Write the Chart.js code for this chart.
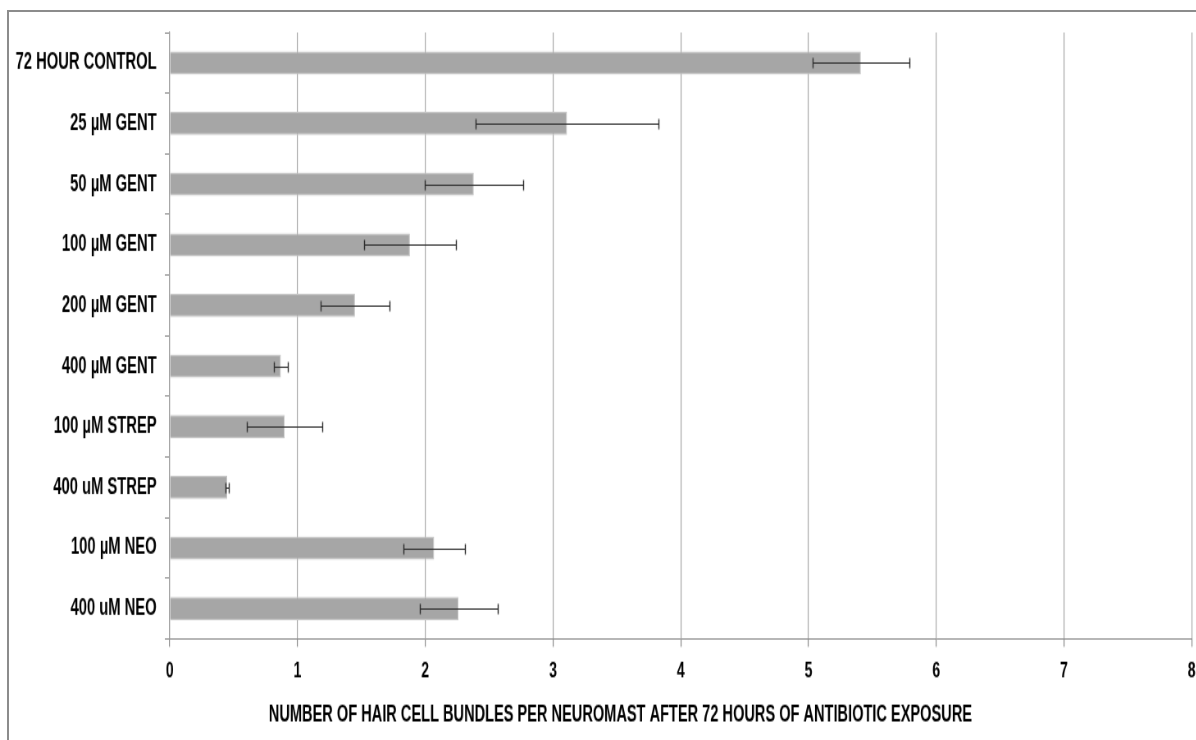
<!DOCTYPE html>
<html>
<head>
<meta charset="utf-8">
<title>Hair cell bundles per neuromast</title>
<script src="https://cdn.jsdelivr.net/npm/chart.js@4.4.1/dist/chart.umd.min.js"></script>
<style>
  html, body { margin: 0; padding: 0; background: #ffffff; overflow: hidden; }
  #stage { position: relative; width: 1196px; height: 740px; overflow: hidden; }
  #frame {
    position: absolute; left: 7px; top: 10px; width: 1400px; height: 900px;
    border-left: 2px solid #8c8c8c; border-top: 2px solid #8c8c8c;
  }
  /* the chart is drawn on a wide, short canvas and shown condensed / tall */
  #plot {
    position: absolute; left: 0; top: 0;
    transform: scale(0.82, 1.3); transform-origin: 0 0;
  }
</style>
</head>
<body>
<div id="stage">
  <div id="frame"></div>
  <canvas id="plot" width="1467" height="569"></canvas>
</div>
<script>
// Treatment groups, top to bottom
const categories = [
  '72 HOUR CONTROL',
  '25 µM GENT',
  '50 µM GENT',
  '100 µM GENT',
  '200 µM GENT',
  '400 µM GENT',
  '100 µM STREP',
  '400 uM STREP',
  '100 µM NEO',
  '400 uM NEO'
];

// Mean hair cell bundles per neuromast
const meanBundles = [5.41, 3.11, 2.38, 1.88, 1.45, 0.87, 0.90, 0.45, 2.07, 2.26];

// Error (+/-) for each group
const errorBundles = [0.38, 0.715, 0.385, 0.36, 0.27, 0.055, 0.295, 0.015, 0.24, 0.305];

// Value axis ticks
const xTicks = [0, 1, 2, 3, 4, 5, 6, 7, 8];

const axisTitle = 'NUMBER OF HAIR CELL BUNDLES PER NEUROMAST AFTER 72 HOURS OF ANTIBIOTIC EXPOSURE';

const FONT = "'Liberation Sans', Arial, sans-serif";

// Draws symmetric error bars on each bar, using the chart's own scales
const errorBarPlugin = {
  id: 'errorBars',
  afterDatasetsDraw(chart) {
    const ctx = chart.ctx;
    const xScale = chart.scales.x;
    const meta = chart.getDatasetMeta(0);
    ctx.save();
    ctx.strokeStyle = '#2e2e2e';
    meta.data.forEach((bar, i) => {
      const v = meanBundles[i];
      const e = errorBundles[i];
      const x1 = Math.round(xScale.getPixelForValue(v - e)) + 0.5;
      const x2 = Math.round(xScale.getPixelForValue(v + e)) + 0.5;
      const y = Math.round(bar.y) + 0.5;
      const cap = 4;
      ctx.lineWidth = 1;
      ctx.beginPath();
      ctx.moveTo(x1, y);
      ctx.lineTo(x2, y);
      ctx.stroke();
      ctx.lineWidth = 1.4;
      ctx.beginPath();
      ctx.moveTo(x1, y - cap);
      ctx.lineTo(x1, y + cap);
      ctx.moveTo(x2, y - cap);
      ctx.lineTo(x2, y + cap);
      ctx.stroke();
    });
    ctx.restore();
  }
};

// Value-axis caption, set a little left of the plot's centre
const axisCaptionPlugin = {
  id: 'axisCaption',
  afterDraw(chart) {
    const { ctx, chartArea } = chart;
    const cx = chartArea.left + (chartArea.right - chartArea.left) * 0.441;
    ctx.save();
    ctx.font = "bold 17.8px " + FONT;
    ctx.fillStyle = '#000000';
    ctx.textAlign = 'center';
    ctx.textBaseline = 'middle';
    ctx.fillText(axisTitle, cx, chart.height - 19);
    ctx.restore();
  }
};

new Chart(document.getElementById('plot'), {
  type: 'bar',
  data: {
    labels: categories,
    datasets: [{
      data: meanBundles,
      backgroundColor: '#a6a6a6',
      borderColor: '#c4c4c4',
      borderWidth: 1,
      barPercentage: 0.38,
      categoryPercentage: 1.0
    }]
  },
  options: {
    indexAxis: 'y',
    responsive: false,
    animation: false,
    devicePixelRatio: 1,
    layout: { padding: { left: 0, top: 25, right: 5, bottom: 0 } },
    plugins: {
      legend: { display: false },
      tooltip: { enabled: false }
    },
    scales: {
      x: {
        min: 0,
        max: 8,
        afterBuildTicks(scale) {
          scale.ticks = xTicks.map(v => ({ value: v }));
        },
        afterFit(scale) { scale.height = 77.5; },
        grid: {
          color: '#a8a8a8',
          lineWidth: 1.2,
          drawTicks: true,
          tickLength: 6,
          tickColor: '#8c8c8c'
        },
        border: { display: true, color: '#8c8c8c', width: 1 },
        ticks: {
          color: '#000000',
          padding: 9,
          font: { family: FONT, size: 17, weight: 'bold' }
        },
        title: { display: false }
      },
      y: {
        afterFit(scale) { scale.width = 207; },
        grid: {
          drawOnChartArea: false,
          drawTicks: true,
          tickLength: 6,
          tickColor: '#8c8c8c',
          offset: true
        },
        border: { display: true, color: '#9a9a9a', width: 1.2 },
        ticks: {
          color: '#000000',
          padding: 10,
          font: { family: FONT, size: 18, weight: 'bold' }
        }
      }
    }
  },
  plugins: [errorBarPlugin, axisCaptionPlugin]
});
</script>
</body>
</html>
